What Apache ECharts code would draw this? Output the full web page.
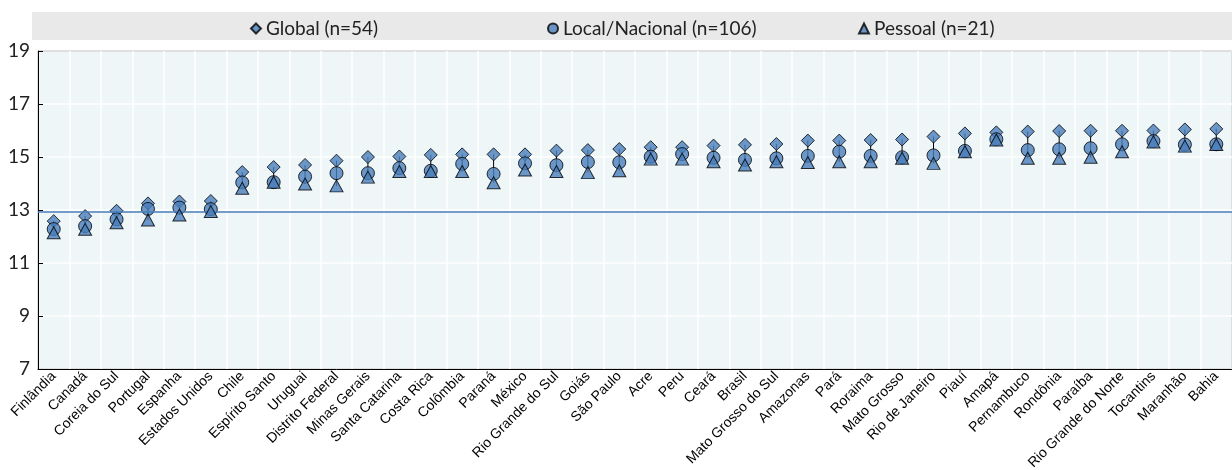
<!DOCTYPE html>
<html>
<head>
<meta charset="utf-8">
<script src="https://cdn.jsdelivr.net/npm/echarts@6/dist/echarts.min.js"></script>
<style>html,body{margin:0;padding:0;background:#fff}#c{width:1232px;height:470px}</style>
</head>
<body>
<div id="c"></div>
<script>
const categories = ["Finlândia","Canadá","Coreia do Sul","Portugal","Espanha","Estados Unidos","Chile","Espírito Santo","Uruguai","Distrito Federal","Minas Gerais","Santa Catarina","Costa Rica","Colômbia","Paraná","México","Rio Grande do Sul","Goiás","São Paulo","Acre","Peru","Ceará","Brasil","Mato Grosso do Sul","Amazonas","Pará","Roraima","Mato Grosso","Rio de Janeiro","Piauí","Amapá","Pernambuco","Rondônia","Paraíba","Rio Grande do Norte","Tocantins","Maranhão","Bahia"];
const globalVals = [12.58,12.77,12.97,13.25,13.32,13.34,14.43,14.62,14.70,14.86,15.00,15.02,15.08,15.10,15.10,15.10,15.24,15.26,15.30,15.37,15.37,15.43,15.46,15.49,15.62,15.62,15.64,15.66,15.77,15.89,15.93,15.96,15.98,15.99,15.99,16.00,16.04,16.06];
const localVals = [12.28,12.39,12.65,13.04,13.09,13.03,14.04,14.05,14.26,14.39,14.39,14.58,14.48,14.74,14.36,14.76,14.69,14.81,14.80,15.01,15.11,14.97,14.89,14.95,15.04,15.20,15.04,14.99,15.06,15.23,15.67,15.26,15.29,15.33,15.48,15.60,15.47,15.48];
const pessoalVals = [12.14,12.27,12.52,12.62,12.81,12.94,13.82,14.05,13.98,13.91,14.24,14.45,14.45,14.45,14.03,14.51,14.45,14.41,14.48,14.92,14.92,14.82,14.70,14.82,14.79,14.82,14.82,14.95,14.76,15.20,15.64,14.95,14.95,14.99,15.20,15.57,15.41,15.47];
const referenceValue = 12.92;
const seriesNames = ["Global (n=54)","Local/Nacional (n=106)","Pessoal (n=21)"];

const rangeData = categories.map((c,i)=>[i, Math.min(globalVals[i],localVals[i],pessoalVals[i]), Math.max(globalVals[i],localVals[i],pessoalVals[i])]);

const fill = '#4a7ebb';
const mk = {color: fill, borderColor: '#000', borderWidth: 1};
const legendText = {fontFamily: 'Lato', fontSize: 19, color: '#222'};

const chart = echarts.init(document.getElementById('c'), null, {renderer: 'canvas'});
chart.setOption({
  animation: false,
  backgroundColor: '#fff',
  graphic: [{type: 'rect', left: 32, top: 12, shape: {width: 1200, height: 28}, style: {fill: '#e9e9e9'}, z: -10}],
  legend: [
    {data: [seriesNames[0]], left: 245, top: 14, itemWidth: 10, itemHeight: 10, itemGap: 4, textStyle: legendText, selectedMode: false},
    {data: [seriesNames[1]], left: 542, top: 14, itemWidth: 10, itemHeight: 10, textStyle: legendText, selectedMode: false},
    {data: [seriesNames[2]], left: 853, top: 14, itemWidth: 10, itemHeight: 10, textStyle: legendText, selectedMode: false}
  ],
  grid: {left: 38, right: 0, top: 51, bottom: 101, containLabel: false, outerBoundsMode: 'none', show: true, backgroundColor: '#eef6f8', borderColor: '#000', borderWidth: 1},
  xAxis: {
    type: 'category', data: categories, boundaryGap: true,
    axisLine: {lineStyle: {color: '#000', width: 1}},
    axisTick: {inside: true, length: 5, lineStyle: {color: '#000'}},
    splitLine: {show: true, interval: 0, lineStyle: {color: '#fff', width: 1.5}},
    axisLabel: {interval: 0, rotate: 45, fontFamily: 'Liberation Sans', fontSize: 14, color: '#000', margin: 5}
  },
  yAxis: {
    type: 'value', min: 7, max: 19, interval: 2,
    axisLine: {show: true, lineStyle: {color: '#000', width: 1}},
    axisTick: {show: true, inside: true, length: 5, lineStyle: {color: '#000'}},
    splitLine: {show: true, lineStyle: {color: '#fff', width: 1.5}},
    axisLabel: {fontFamily: 'Lato', fontSize: 19, color: '#222', margin: 8}
  },
  series: [
    {
      type: 'custom', name: 'range', silent: true, z: 2,
      data: rangeData,
      renderItem: function(params, api){
        const p1 = api.coord([api.value(0), api.value(1)]);
        const p2 = api.coord([api.value(0), api.value(2)]);
        return {type: 'line', shape: {x1: p1[0], y1: p1[1], x2: p2[0], y2: p2[1]}, style: {stroke: '#000', lineWidth: 1}};
      },
      markLine: {silent: true, symbol: 'none', label: {show: false}, lineStyle: {color: '#4a7ebb', width: 1.5, type: 'solid'}, data: [{yAxis: referenceValue}]}
    },
    {name: seriesNames[0], type: 'scatter', symbol: 'diamond', symbolSize: 13, data: globalVals, itemStyle: mk, z: 3},
    {name: seriesNames[1], type: 'scatter', symbol: 'circle', symbolSize: 13, data: localVals, itemStyle: mk, z: 4},
    {name: seriesNames[2], type: 'scatter', symbol: 'triangle', symbolSize: [13, 12], data: pessoalVals, itemStyle: mk, z: 5}
  ]
});
</script>
</body>
</html>
